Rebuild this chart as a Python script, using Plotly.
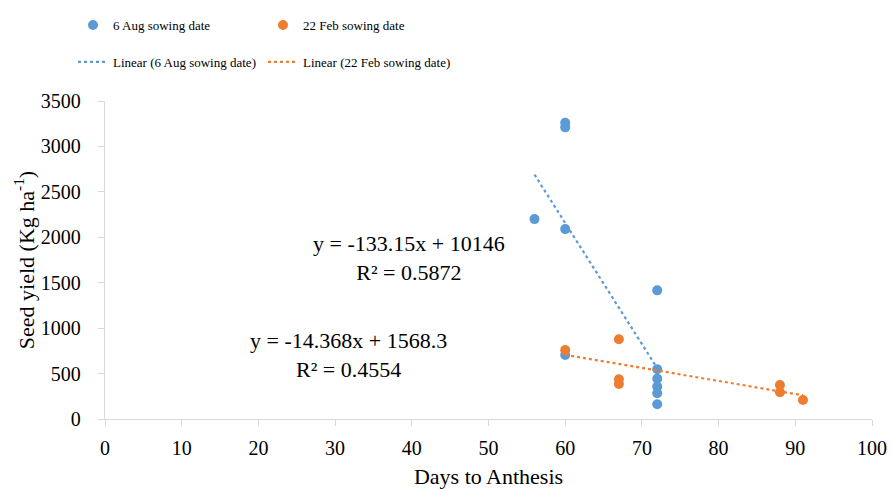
import plotly.graph_objects as go

# Seed yield against days to anthesis for two sowing dates
aug_days = [56, 60, 60, 60, 60, 72, 72, 72, 72, 72, 72]
aug_yield = [2200, 3260, 3210, 2090, 704, 1416, 547, 444, 356, 283, 162]

feb_days = [60, 67, 67, 67, 88, 88, 91]
feb_yield = [759, 877, 437, 385, 374, 294, 209]

# Linear fit coefficients shown on the chart
aug_slope, aug_intercept, aug_r2 = -133.15, 10146, 0.5872
feb_slope, feb_intercept, feb_r2 = -14.368, 1568.3, 0.4554

x_ticks = list(range(0, 101, 10))
y_ticks = list(range(0, 3501, 500))

BLUE = "#5B9BD5"
ORANGE = "#ED7D31"
FONT = "Liberation Serif, Times New Roman, serif"
GRID = "#D9D9D9"


def fit_line(xs, slope, intercept):
    x0, x1 = min(xs), max(xs)
    return [x0, x1], [slope * x0 + intercept, slope * x1 + intercept]


fig = go.Figure()

fig.add_trace(go.Scatter(
    x=aug_days, y=aug_yield, mode="markers", name="6 Aug sowing date",
    marker=dict(color=BLUE, size=10), legend="legend", showlegend=True))
fig.add_trace(go.Scatter(
    x=feb_days, y=feb_yield, mode="markers", name="22 Feb sowing date",
    marker=dict(color=ORANGE, size=10), legend="legend3", showlegend=True))

ax, ay = fit_line(aug_days, aug_slope, aug_intercept)
fig.add_trace(go.Scatter(
    x=ax, y=ay, mode="lines", name="Linear (6 Aug sowing date)",
    line=dict(color=BLUE, width=2.2, dash="dot"), legend="legend2",
    showlegend=True))
fx, fy = fit_line(feb_days, feb_slope, feb_intercept)
fig.add_trace(go.Scatter(
    x=fx, y=fy, mode="lines", name="Linear (22 Feb sowing date)",
    line=dict(color=ORANGE, width=2.2, dash="dot"), legend="legend4",
    showlegend=True))


def eq_text(slope, intercept, r2):
    return f"y = {slope:g}x + {intercept:g}<br>R² = {r2:.4f}"


fig.add_annotation(x=39.6, y=1775, xref="x", yref="y",
                   text=eq_text(aug_slope, aug_intercept, aug_r2),
                   showarrow=False, align="center",
                   font=dict(family=FONT, size=22, color="#000"))
fig.add_annotation(x=31.8, y=705, xref="x", yref="y",
                   text=eq_text(feb_slope, feb_intercept, feb_r2),
                   showarrow=False, align="center",
                   font=dict(family=FONT, size=22, color="#000"))

axis_common = dict(
    showgrid=False, zeroline=False, showline=True, linecolor=GRID,
    linewidth=1.3, ticks="outside", tickcolor=GRID, ticklen=6,
    automargin=False,
    tickfont=dict(family=FONT, size=20, color="#000"))

fig.update_xaxes(range=[0, 100], tickvals=x_ticks, ticklabelstandoff=5,
                 title=dict(text="Days to Anthesis",
                            font=dict(family=FONT, size=22, color="#000"),
                            standoff=13),
                 **axis_common)
fig.update_yaxes(range=[0, 3500], tickvals=y_ticks, ticklabelstandoff=13,
                 title=dict(text="Seed yield (Kg ha<sup>-1</sup>)",
                            font=dict(family=FONT, size=22, color="#000"),
                            standoff=0),
                 **axis_common)


def legend_at(x_px, y_px):
    return dict(
        orientation="h", xref="container", yref="container",
        x=x_px / 892, y=1 - y_px / 489, xanchor="left", yanchor="middle",
        font=dict(family=FONT, size=13, color="#000"),
        bgcolor="rgba(0,0,0,0)")


fig.update_layout(
    width=892, height=489,
    margin=dict(l=105, r=20, t=101, b=70),
    paper_bgcolor="white", plot_bgcolor="white",
    font=dict(family=FONT, color="#000"),
    showlegend=True,
    legend=legend_at(73, 25),
    legend3=legend_at(263, 25),
    legend2=legend_at(73, 62),
    legend4=legend_at(263, 62),
)

fig.write_html("out.html")
